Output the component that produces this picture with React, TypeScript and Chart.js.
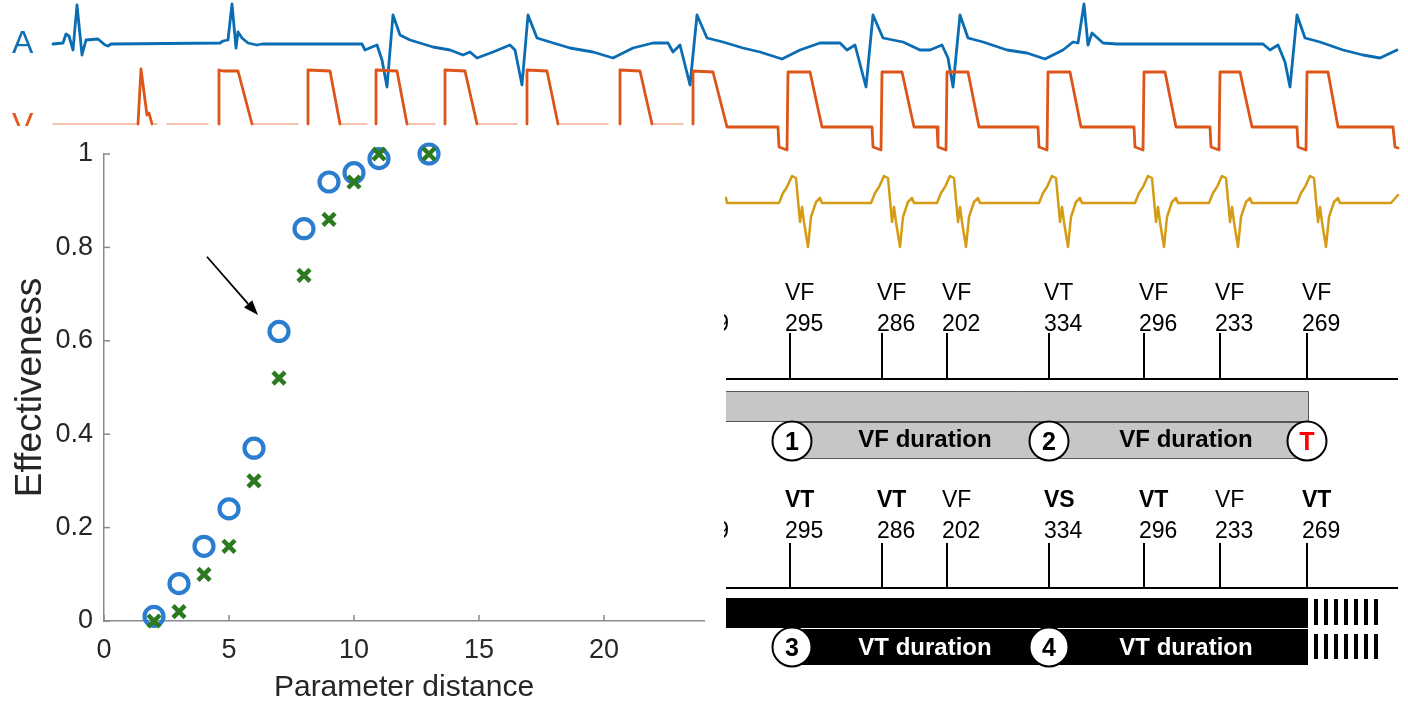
import React, { useEffect, useRef } from 'react';
import { Chart, registerables } from 'chart.js';

Chart.register(...registerables);

const FONT = "'Liberation Sans', Arial, Helvetica, sans-serif";

// ---------------- Scatter (effectiveness vs parameter distance) ----------------
const distance = [2, 3, 4, 5, 6, 7, 8, 9, 10, 11, 13];
const effectivenessCircles = [0.01, 0.08, 0.16, 0.24, 0.37, 0.62, 0.84, 0.94, 0.96, 0.99, 1.0];
const effectivenessCrosses = [0.0, 0.02, 0.1, 0.16, 0.3, 0.52, 0.74, 0.86, 0.94, 1.0, 1.0];
const xTicks = [0, 5, 10, 15, 20];
const xTickLabels = ['0', '5', '10', '15', '20'];
const yTicks = [0, 0.2, 0.4, 0.6, 0.8, 1];
const yTickLabels = ['0', '0.2', '0.4', '0.6', '0.8', '1'];
const arrowFrom = [4.12, 0.78];
const arrowTo = [6.16, 0.655];

// ---------------- ECG traces (time, amplitude) ----------------
const atrialTrace: [number, number][] = [
  [53, 44], [63, 43], [66, 34], [69, 36], [73, 50], [77, 5], [79, 25], [82, 55], [86, 40], [98, 39], [105, 45], [108, 46], [111, 44],
  [220, 43], [223, 41], [228, 40], [232, 4], [236, 48], [238, 32], [242, 38], [248, 43], [257, 45], [262, 44],
  [362, 44], [365, 50], [372, 47], [377, 45], [382, 60], [387, 87], [393, 15], [400, 35], [410, 40], [433, 47], [450, 50], [463, 55], [470, 52],
  [477, 58], [493, 52], [510, 45], [515, 50], [522, 85], [528, 15], [537, 38], [550, 42], [570, 48], [593, 52], [613, 58], [633, 48], [653, 43],
  [668, 43], [673, 52], [680, 45], [690, 85], [697, 15], [707, 38], [723, 42], [743, 48], [760, 52], [782, 59], [800, 50], [820, 43], [840, 43],
  [847, 50], [855, 45], [866, 87], [873, 15], [883, 38], [903, 42], [920, 50], [930, 50], [942, 45], [948, 58], [953, 87], [960, 15], [968, 38],
  [983, 42], [1007, 50], [1027, 53], [1045, 59], [1063, 50], [1073, 42], [1078, 43], [1084, 4], [1088, 45], [1092, 33], [1103, 43], [1117, 44],
  [1263, 44], [1270, 50], [1278, 45], [1285, 62], [1290, 87], [1297, 15], [1305, 38], [1320, 42], [1343, 50], [1363, 55], [1380, 58], [1397, 50],
];

const ventricularBaselineSegments: [number, number][] = [
  [53, 137], [153, 157], [167, 208], [253, 298], [341, 367], [408, 435], [478, 517], [559, 608], [653, 683],
];

const ventricularTrace: [number, number | null][] = [
  [138, 124], [141, 69], [145, 100], [147, 115], [149, 113], [152, 124], [152, null],
  [219, 124], [219, 70], [223, 71], [238, 71], [252, 124], [252, null],
  [308, 124], [308, 70], [330, 71], [340, 124], [340, null],
  [376, 124], [376, 70], [397, 71], [407, 124], [407, null],
  [445, 124], [445, 70], [465, 71], [477, 124], [477, null],
  [527, 124], [527, 70], [547, 71], [558, 124], [558, null],
  [620, 124], [620, 70], [640, 71], [652, 124], [652, null],
  [693, 124], [693, 71], [713, 72], [727, 127], [778, 127], [779, 147], [787, 150],
  [788, 72], [810, 72], [822, 127], [872, 127], [873, 147], [881, 150],
  [882, 72], [902, 72], [914, 127], [937, 127], [938, 147], [946, 150],
  [947, 72], [968, 72], [979, 127], [1038, 127], [1039, 147], [1047, 150],
  [1048, 72], [1070, 72], [1081, 127], [1134, 127], [1135, 147], [1143, 150],
  [1144, 72], [1165, 72], [1176, 127], [1210, 127], [1211, 147], [1219, 150],
  [1220, 72], [1240, 72], [1252, 127], [1297, 127], [1298, 147], [1306, 150],
  [1307, 72], [1328, 72], [1338, 127], [1393, 127], [1395, 147], [1398, 148],
];

const surfaceEcgTrace: [number, number][] = [
  [726, 198], [727, 203],
  [779, 203], [783, 193], [787, 187], [792, 176], [796, 178], [798, 200], [800, 222], [802, 207], [804, 222], [808, 247], [811, 217], [816, 202], [820, 198], [822, 203],
  [871, 203], [875, 193], [879, 187], [884, 176], [888, 178], [890, 200], [892, 222], [894, 207], [896, 222], [900, 247], [903, 217], [908, 202], [912, 198], [914, 203],
  [937, 203], [941, 193], [945, 187], [950, 176], [954, 178], [956, 200], [958, 222], [960, 207], [962, 222], [966, 247], [969, 217], [974, 202], [978, 198], [980, 203],
  [1039, 203], [1043, 193], [1047, 187], [1052, 176], [1056, 178], [1058, 200], [1060, 222], [1062, 207], [1064, 222], [1068, 247], [1071, 217], [1076, 202], [1080, 198], [1082, 203],
  [1135, 203], [1139, 193], [1143, 187], [1148, 176], [1152, 178], [1154, 200], [1156, 222], [1158, 207], [1160, 222], [1164, 247], [1167, 217], [1172, 202], [1176, 198], [1178, 203],
  [1209, 203], [1213, 193], [1217, 187], [1222, 176], [1226, 178], [1228, 200], [1230, 222], [1232, 207], [1234, 222], [1238, 247], [1241, 217], [1246, 202], [1250, 198], [1252, 203],
  [1297, 203], [1301, 193], [1305, 187], [1310, 176], [1314, 178], [1316, 200], [1318, 222], [1320, 207], [1322, 222], [1326, 247], [1329, 217], [1334, 202], [1338, 198], [1340, 203],
  [1391, 203], [1398, 195],
];

// ---------------- Episode diagrams ----------------
const beatTimes = [790, 882, 947, 1049, 1144, 1220, 1307];
const cycleLengths = ['295', '286', '202', '334', '296', '233', '269'];
const classesOriginal = ['VF', 'VF', 'VF', 'VT', 'VF', 'VF', 'VF'];
const classesModified = ['VT', 'VT', 'VF', 'VS', 'VT', 'VF', 'VT'];
const episodeStart = 726;
const episodeEnd = 1308;
const markerTimes = [792, 1049];
const markersOriginal = ['1', '2'];
const markersModified = ['3', '4'];
const therapyTime = 1307;
const durationLabelTimes = [925, 1186];
const pacingTimes = [1316, 1326, 1336, 1346, 1356, 1366, 1376];

const AXIS = '#8a8a8a';
const TXT = '#262626';

function toPoints(arr: [number, number | null][]) {
  return arr.map(([x, y]) => ({ x, y }));
}

function segPoints(segs: [number, number][], level: number) {
  const out: { x: number; y: number | null }[] = [];
  segs.forEach(([a, b]) => {
    out.push({ x: a, y: level }, { x: b, y: level }, { x: b, y: null });
  });
  return out;
}

const ecgLabelPlugin = {
  id: 'ecgLabels',
  afterDraw(chart: any) {
    const { ctx } = chart;
    ctx.save();
    ctx.font = `32px ${FONT}`;
    ctx.textAlign = 'left';
    ctx.textBaseline = 'alphabetic';
    ctx.fillStyle = '#1070b6';
    ctx.fillText('A', 12, 53);
    ctx.fillStyle = '#de5a1e';
    ctx.fillText('V', 12, 135);
    ctx.restore();
  },
};

const scatterDecor = {
  id: 'scatterDecor',
  afterDraw(chart: any) {
    const { ctx, chartArea } = chart;
    const xs = chart.scales.x;
    const ys = chart.scales.y;
    ctx.save();
    ctx.strokeStyle = AXIS;
    ctx.lineWidth = 1.5;
    xTicks.forEach((v) => {
      const px = xs.getPixelForValue(v);
      ctx.beginPath();
      ctx.moveTo(px, chartArea.bottom);
      ctx.lineTo(px, chartArea.bottom - 6);
      ctx.stroke();
    });
    yTicks.forEach((v) => {
      const py = ys.getPixelForValue(v);
      ctx.beginPath();
      ctx.moveTo(chartArea.left, py);
      ctx.lineTo(chartArea.left + 6, py);
      ctx.stroke();
    });
    // arrow
    const x0 = xs.getPixelForValue(arrowFrom[0]);
    const y0 = ys.getPixelForValue(arrowFrom[1]);
    const x1 = xs.getPixelForValue(arrowTo[0]);
    const y1 = ys.getPixelForValue(arrowTo[1]);
    const ang = Math.atan2(y1 - y0, x1 - x0);
    const head = 15;
    const hw = 5.5;
    const bx = x1 - head * Math.cos(ang);
    const by = y1 - head * Math.sin(ang);
    ctx.strokeStyle = '#000';
    ctx.fillStyle = '#000';
    ctx.lineWidth = 1.8;
    ctx.beginPath();
    ctx.moveTo(x0, y0);
    ctx.lineTo(bx, by);
    ctx.stroke();
    ctx.beginPath();
    ctx.moveTo(x1, y1);
    ctx.lineTo(bx + hw * Math.sin(ang), by - hw * Math.cos(ang));
    ctx.lineTo(bx - hw * Math.sin(ang), by + hw * Math.cos(ang));
    ctx.closePath();
    ctx.fill();
    ctx.restore();
  },
};

function drawCircle(ctx: any, x: number, y: number, label: string, color: string) {
  ctx.beginPath();
  ctx.arc(x, y, 19.5, 0, Math.PI * 2);
  ctx.fillStyle = '#fff';
  ctx.fill();
  ctx.lineWidth = 2;
  ctx.strokeStyle = '#000';
  ctx.stroke();
  ctx.fillStyle = color;
  ctx.font = `bold 25px ${FONT}`;
  ctx.textAlign = 'center';
  ctx.textBaseline = 'alphabetic';
  ctx.fillText(label, x, y + 9);
}

const diagramPlugin = {
  id: 'diagram',
  afterDatasetsDraw(chart: any) {
    const { ctx } = chart;
    const xs = chart.scales.x;
    const ys = chart.scales.y;
    const X = (v: number) => xs.getPixelForValue(v);
    const Y = (v: number) => ys.getPixelForValue(v);
    ctx.save();
    ctx.textAlign = 'left';
    ctx.textBaseline = 'alphabetic';
    ctx.fillStyle = '#000';

    const rows = [
      { classes: classesOriginal, yc: 300, yn: 331, boldNonVF: false },
      { classes: classesModified, yc: 507, yn: 538, boldNonVF: true },
    ];
    rows.forEach((r) => {
      beatTimes.forEach((t, i) => {
        const c = r.classes[i];
        const bold = r.boldNonVF && c !== 'VF';
        ctx.font = `${bold ? 'bold ' : ''}23px ${FONT}`;
        ctx.fillText(c, X(t) - 5, Y(r.yc));
        ctx.font = `23px ${FONT}`;
        ctx.fillText(cycleLengths[i], X(t) - 5, Y(r.yn));
      });
      // clipped previous-beat label at the left edge
      ctx.save();
      ctx.beginPath();
      ctx.rect(X(724), 0, 8, chart.height);
      ctx.clip();
      ctx.textAlign = 'right';
      ctx.font = `23px ${FONT}`;
      ctx.fillText('269', X(729), Y(r.yn));
      ctx.restore();
    });

    // grey bars (original classification)
    ctx.fillStyle = '#c6c6c6';
    ctx.strokeStyle = '#555';
    ctx.lineWidth = 1;
    ctx.fillRect(X(episodeStart), Y(391), X(episodeEnd) - X(episodeStart), Y(421) - Y(391));
    ctx.beginPath();
    ctx.moveTo(X(episodeStart), Y(391) + 0.5);
    ctx.lineTo(X(episodeEnd) + 0.5, Y(391) + 0.5);
    ctx.lineTo(X(episodeEnd) + 0.5, Y(421) + 0.5);
    ctx.lineTo(X(episodeStart), Y(421) + 0.5);
    ctx.stroke();
    ctx.fillRect(X(markerTimes[0]), Y(422), X(episodeEnd) - X(markerTimes[0]), Y(458) - Y(422));
    ctx.strokeRect(X(markerTimes[0]) + 0.5, Y(422) + 0.5, X(episodeEnd) - X(markerTimes[0]), Y(458) - Y(422));

    ctx.fillStyle = '#000';
    ctx.font = `bold 24px ${FONT}`;
    ctx.textAlign = 'center';
    durationLabelTimes.forEach((t) => ctx.fillText('VF duration', X(t), Y(447)));
    markerTimes.forEach((t, i) => drawCircle(ctx, X(t), Y(441), markersOriginal[i], '#000'));
    drawCircle(ctx, X(therapyTime), Y(441), 'T', '#ff0000');

    // black bars (modified classification)
    ctx.fillStyle = '#000';
    ctx.fillRect(X(episodeStart), Y(598), X(episodeEnd) - X(episodeStart), Y(628) - Y(598));
    ctx.fillRect(X(markerTimes[0]), Y(629), X(episodeEnd) - X(markerTimes[0]), Y(665) - Y(629));
    ctx.fillStyle = '#fff';
    ctx.font = `bold 24px ${FONT}`;
    ctx.textAlign = 'center';
    durationLabelTimes.forEach((t) => ctx.fillText('VT duration', X(t), Y(655)));
    markerTimes.forEach((t, i) => drawCircle(ctx, X(t), Y(647), markersModified[i], '#000'));

    // pacing marks
    ctx.fillStyle = '#000';
    pacingTimes.forEach((t) => {
      ctx.fillRect(X(t) - 2, Y(599), 4, Y(625) - Y(599));
      ctx.fillRect(X(t) - 2, Y(634), 4, Y(659) - Y(634));
    });
    ctx.restore();
  },
};

export default function App() {
  const ecgRef = useRef<HTMLCanvasElement>(null);
  const scatterRef = useRef<HTMLCanvasElement>(null);
  const diagRef = useRef<HTMLCanvasElement>(null);

  useEffect(() => {
    const charts: Chart[] = [];

    charts.push(
      new Chart(ecgRef.current as HTMLCanvasElement, {
        type: 'line',
        data: {
          datasets: [
            {
              label: 'V baseline',
              data: segPoints(ventricularBaselineSegments, 124),
              borderColor: 'rgba(236,120,70,0.6)',
              borderWidth: 1.4,
            },
            { label: 'V', data: toPoints(ventricularTrace), borderColor: '#dd5519', borderWidth: 2.8 },
            { label: 'A', data: toPoints(atrialTrace), borderColor: '#0a6db4', borderWidth: 2.8 },
            { label: 'ECG', data: toPoints(surfaceEcgTrace), borderColor: '#d49c14', borderWidth: 2.5 },
          ] as any,
        },
        options: {
          animation: false,
          responsive: false,
          devicePixelRatio: 1,
          parsing: false as any,
          spanGaps: false,
          layout: { padding: 0 },
          elements: {
            point: { radius: 0 },
            line: { tension: 0, borderJoinStyle: 'round', borderCapStyle: 'round', fill: false },
          },
          plugins: { legend: { display: false }, tooltip: { enabled: false } },
          scales: {
            x: { type: 'linear', min: 0, max: 1408, display: false },
            y: { type: 'linear', min: 0, max: 260, reverse: true, display: false },
          },
        },
        plugins: [ecgLabelPlugin],
      } as any)
    );

    charts.push(
      new Chart(diagRef.current as HTMLCanvasElement, {
        type: 'line',
        data: {
          datasets: [
            {
              label: 'beats original',
              data: beatTimes.flatMap((t) => [{ x: t, y: 333 }, { x: t, y: 379 }, { x: t, y: null }]),
              borderColor: '#000',
              borderWidth: 2,
            },
            {
              label: 'axis original',
              data: [{ x: episodeStart, y: 379 }, { x: 1398, y: 379 }],
              borderColor: '#000',
              borderWidth: 2,
            },
            {
              label: 'beats modified',
              data: beatTimes.flatMap((t) => [{ x: t, y: 543 }, { x: t, y: 588 }, { x: t, y: null }]),
              borderColor: '#000',
              borderWidth: 2,
            },
            {
              label: 'axis modified',
              data: [{ x: episodeStart, y: 588 }, { x: 1398, y: 588 }],
              borderColor: '#000',
              borderWidth: 2,
            },
          ] as any,
        },
        options: {
          animation: false,
          responsive: false,
          devicePixelRatio: 1,
          spanGaps: false,
          layout: { padding: 0 },
          elements: { point: { radius: 0 }, line: { tension: 0 } },
          plugins: { legend: { display: false }, tooltip: { enabled: false } },
          scales: {
            x: { type: 'linear', min: 720, max: 1408, display: false },
            y: { type: 'linear', min: 260, max: 680, reverse: true, display: false },
          },
        },
        plugins: [diagramPlugin],
      } as any)
    );

    charts.push(
      new Chart(scatterRef.current as HTMLCanvasElement, {
        type: 'scatter',
        data: {
          datasets: [
            {
              label: 'circles',
              data: distance.map((d, i) => ({ x: d, y: effectivenessCircles[i] })),
              pointStyle: 'circle',
              pointRadius: 9.5,
              borderWidth: 4.2,
              borderColor: '#2b7dcf',
              backgroundColor: 'rgba(0,0,0,0)',
              clip: false,
              order: 2,
            },
            {
              label: 'crosses',
              data: distance.map((d, i) => ({ x: d, y: effectivenessCrosses[i] })),
              pointStyle: 'crossRot',
              pointRadius: 8.5,
              borderWidth: 4.5,
              borderColor: '#2b7a1f',
              backgroundColor: '#2b7a1f',
              clip: false,
              order: 1,
            },
          ],
        },
        options: {
          animation: false,
          responsive: false,
          devicePixelRatio: 1,
          layout: { padding: { top: 28, right: 16, left: 0, bottom: 0 } },
          plugins: { legend: { display: false }, tooltip: { enabled: false } },
          scales: {
            x: {
              type: 'linear',
              min: 0,
              max: 24,
              afterBuildTicks: (s: any) => {
                s.ticks = xTicks.map((v) => ({ value: v }));
              },
              afterFit: (s: any) => {
                s.height = 82;
              },
              grid: { display: false, drawTicks: false },
              border: { display: true, color: AXIS, width: 1.5 },
              ticks: {
                color: TXT,
                font: { size: 27, family: FONT },
                padding: 13,
                maxRotation: 0,
                callback: (v: any) => {
                  const i = xTicks.indexOf(Number(v));
                  return i >= 0 ? xTickLabels[i] : '';
                },
              },
              title: {
                display: true,
                text: 'Parameter distance',
                color: TXT,
                font: { size: 30, family: FONT, lineHeight: 1 },
                padding: { top: 0, bottom: 0 },
              },
            },
            y: {
              type: 'linear',
              min: 0,
              max: 1,
              afterBuildTicks: (s: any) => {
                s.ticks = yTicks.map((v) => ({ value: v }));
              },
              afterFit: (s: any) => {
                s.width = 104;
              },
              grid: { display: false, drawTicks: false },
              border: { display: true, color: AXIS, width: 1.5 },
              ticks: {
                color: TXT,
                font: { size: 27, family: FONT },
                padding: 11,
                callback: (v: any) => {
                  const i = yTicks.findIndex((t) => Math.abs(t - Number(v)) < 1e-9);
                  return i >= 0 ? yTickLabels[i] : '';
                },
              },
              title: {
                display: true,
                text: 'Effectiveness',
                color: TXT,
                font: { size: 37, family: FONT, lineHeight: 1 },
                padding: { top: 12, bottom: 0 },
              },
            },
          },
        },
        plugins: [scatterDecor],
      } as any)
    );

    return () => charts.forEach((c) => c.destroy());
  }, []);

  return (
    <div style={{ position: 'absolute', left: 0, top: 0, width: 1408, height: 703, background: '#fff', overflow: 'hidden' }}>
      <canvas ref={ecgRef} width={1408} height={260} style={{ position: 'absolute', left: 0, top: 0 }} />
      <canvas ref={diagRef} width={688} height={420} style={{ position: 'absolute', left: 720, top: 260 }} />
      <canvas
        ref={scatterRef}
        width={720}
        height={577}
        style={{ position: 'absolute', left: 0, top: 126, background: '#fff' }}
      />
    </div>
  );
}
